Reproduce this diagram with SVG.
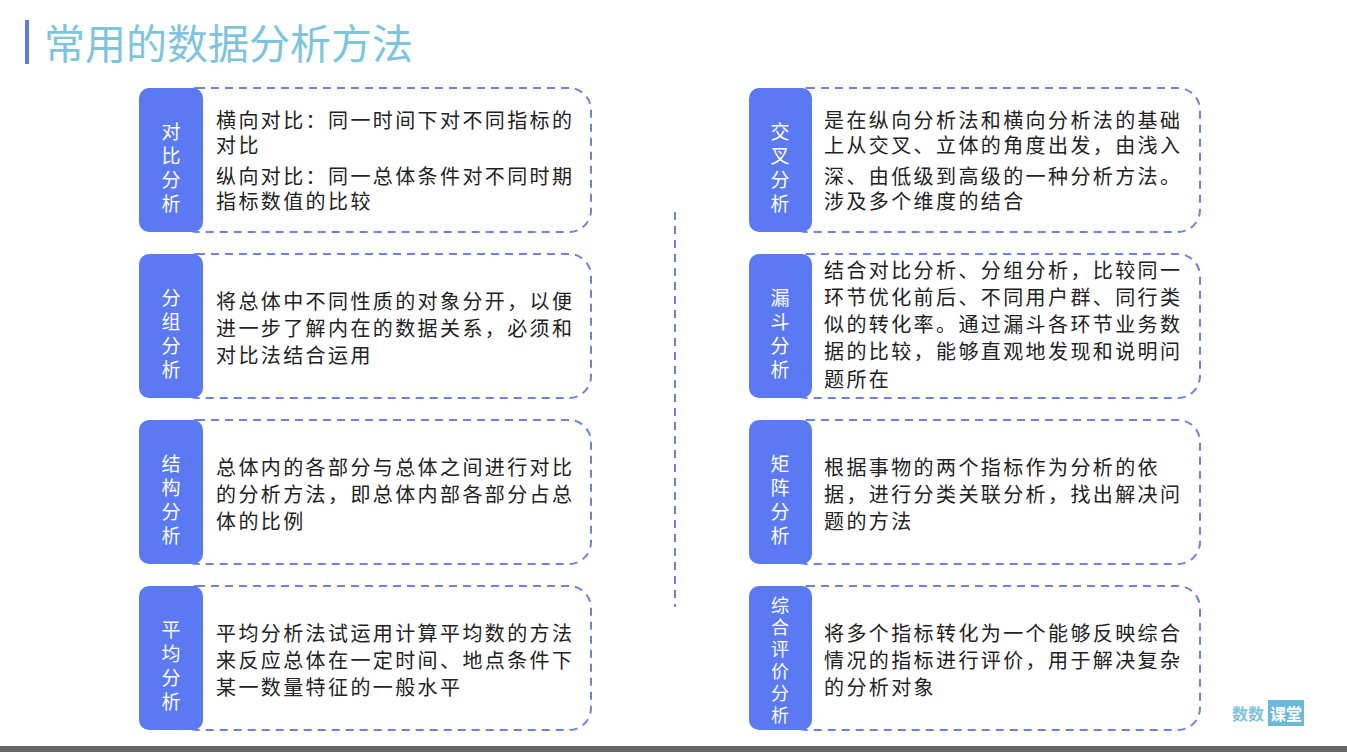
<svg xmlns="http://www.w3.org/2000/svg" width="1347" height="752" viewBox="0 0 1347 752">
<style>
.tab{fill:#5b79f2}
.box{fill:#fff;stroke:#6a82e3;stroke-width:2;stroke-dasharray:8 6}
.tt{font-family:"Noto Sans CJK SC",sans-serif;font-size:19px;fill:#fff;text-anchor:middle}
.bt{font-family:"Noto Sans CJK SC",sans-serif;font-size:20px;letter-spacing:2.4px;fill:#222}
</style>
<rect width="1347" height="752" fill="#fff"/>
<rect x="0" y="746" width="1347" height="6" fill="#666"/>
<rect x="25" y="20" width="4" height="44" fill="#5a7de0"/>
<text x="44" y="59" font-family="Noto Sans CJK SC,sans-serif" font-size="41" fill="#7ec4dd">常用的数据分析方法</text>
<g id="connectors"><line x1="675" y1="212" x2="675" y2="607" stroke="#6a82e3" stroke-width="2" stroke-dasharray="8 6"/></g>
<g id="n1"><rect class="box" x="175" y="88" width="416" height="144" rx="22"/><rect class="tab" x="139" y="88" width="64" height="144" rx="10"/>
<text class="tt"><tspan x="171" y="139">对</tspan><tspan x="171" y="163">比</tspan><tspan x="171" y="187">分</tspan><tspan x="171" y="211">析</tspan></text>
<text class="bt"><tspan x="216" y="128">横向对比：同一时间下对不同指标的</tspan><tspan x="216" y="153">对比</tspan><tspan x="216" y="184">纵向对比：同一总体条件对不同时期</tspan><tspan x="216" y="209">指标数值的比较</tspan></text></g>
<g id="n2"><rect class="box" x="175" y="254" width="416" height="144" rx="22"/><rect class="tab" x="139" y="254" width="64" height="144" rx="10"/>
<text class="tt"><tspan x="171" y="305">分</tspan><tspan x="171" y="329">组</tspan><tspan x="171" y="353">分</tspan><tspan x="171" y="377">析</tspan></text>
<text class="bt"><tspan x="216" y="309">将总体中不同性质的对象分开，以便</tspan><tspan x="216" y="336">进一步了解内在的数据关系，必须和</tspan><tspan x="216" y="363">对比法结合运用</tspan></text></g>
<g id="n3"><rect class="box" x="175" y="420" width="416" height="144" rx="22"/><rect class="tab" x="139" y="420" width="64" height="144" rx="10"/>
<text class="tt"><tspan x="171" y="471">结</tspan><tspan x="171" y="495">构</tspan><tspan x="171" y="519">分</tspan><tspan x="171" y="543">析</tspan></text>
<text class="bt"><tspan x="216" y="475">总体内的各部分与总体之间进行对比</tspan><tspan x="216" y="502">的分析方法，即总体内部各部分占总</tspan><tspan x="216" y="529">体的比例</tspan></text></g>
<g id="n4"><rect class="box" x="175" y="586" width="416" height="144" rx="22"/><rect class="tab" x="139" y="586" width="64" height="144" rx="10"/>
<text class="tt"><tspan x="171" y="637">平</tspan><tspan x="171" y="661">均</tspan><tspan x="171" y="685">分</tspan><tspan x="171" y="709">析</tspan></text>
<text class="bt"><tspan x="216" y="641">平均分析法试运用计算平均数的方法</tspan><tspan x="216" y="668">来反应总体在一定时间、地点条件下</tspan><tspan x="216" y="695">某一数量特征的一般水平</tspan></text></g>
<g id="n5"><rect class="box" x="785" y="88" width="415" height="144" rx="22"/><rect class="tab" x="749" y="88" width="63" height="144" rx="10"/>
<text class="tt"><tspan x="780" y="139">交</tspan><tspan x="780" y="163">叉</tspan><tspan x="780" y="187">分</tspan><tspan x="780" y="211">析</tspan></text>
<text class="bt"><tspan x="824" y="128">是在纵向分析法和横向分析法的基础</tspan><tspan x="824" y="153">上从交叉、立体的角度出发，由浅入</tspan><tspan x="824" y="184">深、由低级到高级的一种分析方法。</tspan><tspan x="824" y="209">涉及多个维度的结合</tspan></text></g>
<g id="n6"><rect class="box" x="785" y="254" width="415" height="144" rx="22"/><rect class="tab" x="749" y="254" width="63" height="144" rx="10"/>
<text class="tt"><tspan x="780" y="305">漏</tspan><tspan x="780" y="329">斗</tspan><tspan x="780" y="353">分</tspan><tspan x="780" y="377">析</tspan></text>
<text class="bt"><tspan x="824" y="278">结合对比分析、分组分析，比较同一</tspan><tspan x="824" y="305">环节优化前后、不同用户群、同行类</tspan><tspan x="824" y="332">似的转化率。通过漏斗各环节业务数</tspan><tspan x="824" y="359">据的比较，能够直观地发现和说明问</tspan><tspan x="824" y="387">题所在</tspan></text></g>
<g id="n7"><rect class="box" x="785" y="420" width="415" height="144" rx="22"/><rect class="tab" x="749" y="420" width="63" height="144" rx="10"/>
<text class="tt"><tspan x="780" y="471">矩</tspan><tspan x="780" y="495">阵</tspan><tspan x="780" y="519">分</tspan><tspan x="780" y="543">析</tspan></text>
<text class="bt"><tspan x="824" y="475">根据事物的两个指标作为分析的依</tspan><tspan x="824" y="502">据，进行分类关联分析，找出解决问</tspan><tspan x="824" y="529">题的方法</tspan></text></g>
<g id="n8"><rect class="box" x="785" y="586" width="415" height="144" rx="22"/><rect class="tab" x="749" y="586" width="63" height="144" rx="10"/>
<text class="tt" style="font-size:18px"><tspan x="780" y="612">综</tspan><tspan x="780" y="634">合</tspan><tspan x="780" y="656">评</tspan><tspan x="780" y="678">价</tspan><tspan x="780" y="700">分</tspan><tspan x="780" y="722">析</tspan></text>
<text class="bt"><tspan x="824" y="641">将多个指标转化为一个能够反映综合</tspan><tspan x="824" y="668">情况的指标进行评价，用于解决复杂</tspan><tspan x="824" y="695">的分析对象</tspan></text></g>
<g id="logo"><text x="1232" y="720" font-family="Noto Sans CJK SC,sans-serif" font-size="16" font-weight="bold" fill="#7fc3dc">数数</text><rect x="1268" y="700" width="36" height="26" fill="#6cb8d8"/><text x="1286" y="720" text-anchor="middle" font-family="Noto Sans CJK SC,sans-serif" font-size="16" font-weight="bold" fill="#fff">课堂</text></g>
</svg>
